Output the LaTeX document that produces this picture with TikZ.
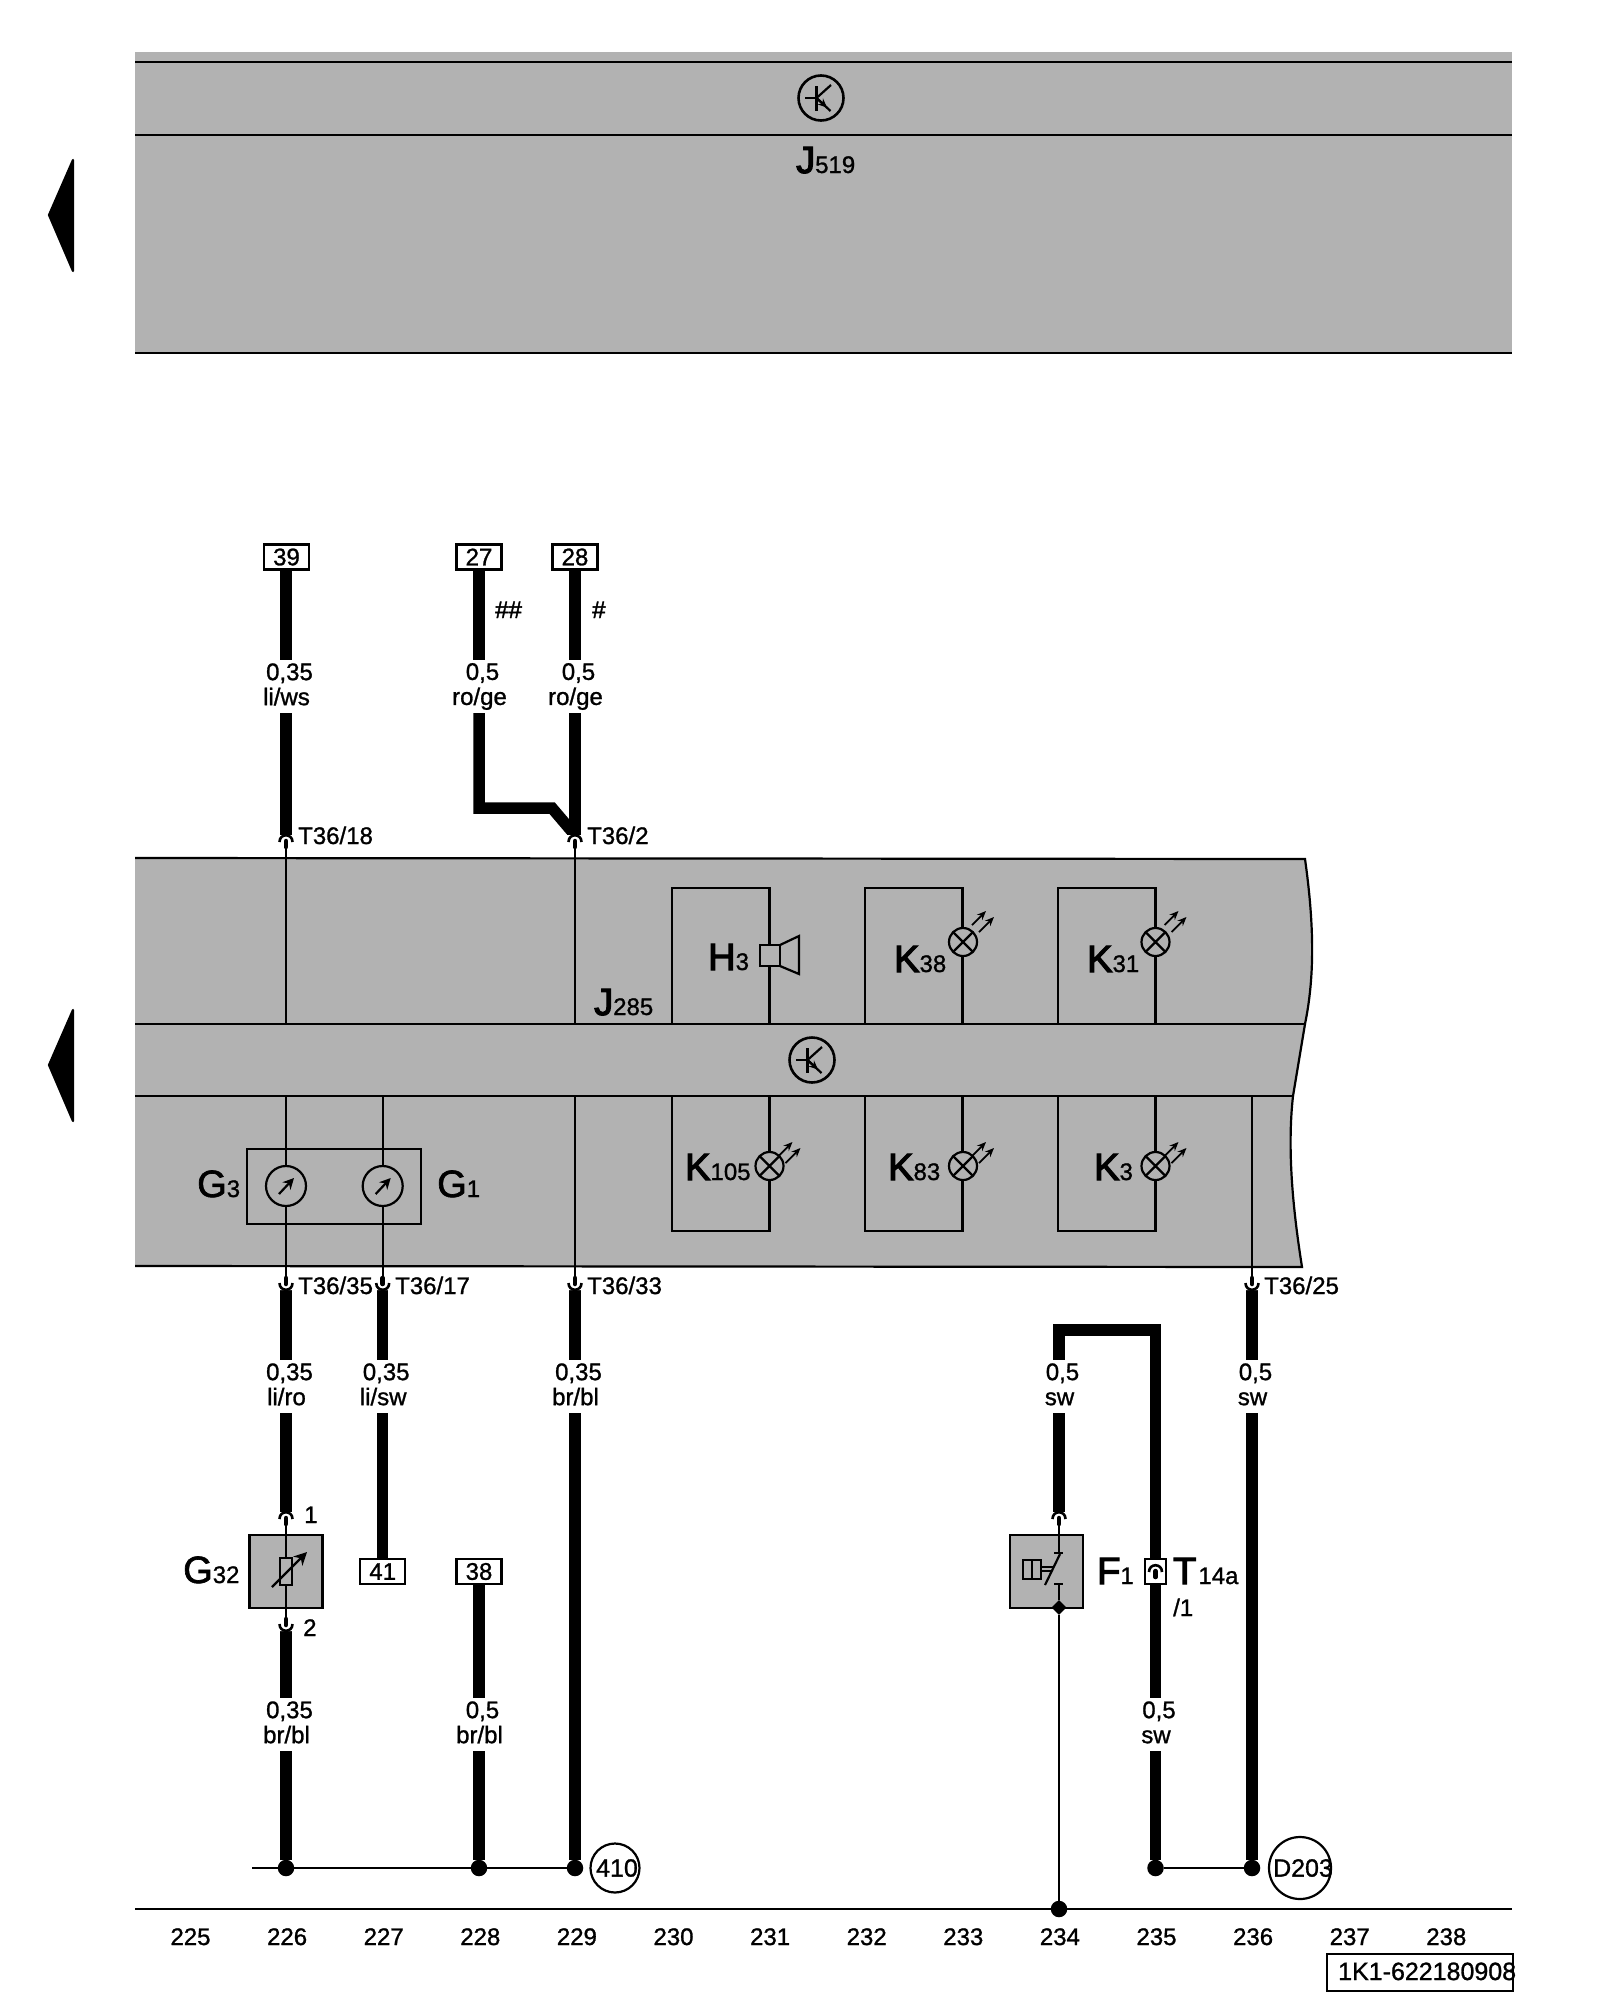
\documentclass[tikz,border=0pt]{standalone}
\usepackage{fontspec}
\setmainfont[FakeBold=1.1]{Liberation Sans}
\newfontfamily\heavyfont[FakeBold=3.2]{Liberation Sans}
\newfontfamily\mediumfont[FakeBold=1.8]{Liberation Sans}
\usetikzlibrary{arrows.meta,shapes.geometric}
\definecolor{panel}{HTML}{B2B2B2}
\newcommand{\compname}[2]{{\fontsize{38}{38}\heavyfont #1}{\fontsize{24}{24}\selectfont #2}}
\newcommand{\gaugename}[2]{{\fontsize{38}{38}\mediumfont #1}{\fontsize{24}{24}\selectfont #2}}
\newcommand{\cablelabel}[2]{\hspace*{7pt}\rule[-4.5pt]{0pt}{20.5pt}#1\\\hspace*{1pt}\rule[-4.5pt]{0pt}{20.5pt}#2}
\tikzset{
  cable/.style={line width=11.5pt},
  lead/.style={line width=2.2pt},
  rim/.style={line width=2.6pt},
  cablelab/.style={align=center,inner sep=0pt,minimum height=53pt,font=\fontsize{24}{25}\selectfont},
  terminal/.style={draw,fill=white,lead,minimum width=45pt,minimum height=25pt,inner sep=0pt,font=\fontsize{24}{24}\selectfont},
  pinlab/.style={anchor=base west,inner sep=0pt,font=\fontsize{24}{24}\selectfont},
  partlab/.style={anchor=base west,inner sep=0pt},
  sheetno/.style={anchor=base,inner sep=0pt,font=\fontsize{24}{24}\selectfont},
  joint/.style={circle,fill=black,inner sep=0pt,minimum size=16.5pt},
  ground/.style={circle,draw,lead,inner sep=0pt,font=\fontsize{25}{25}\selectfont},
  sensorbox/.style={draw,fill=panel,lead,inner sep=0pt,minimum size=73pt},
  pics/pintop/.style={code={
    \draw[line width=2.6pt] (-6.5,7) .. controls (-6.5,-2) and (6.5,-2) .. (6.5,7);
    \draw[line width=4.5pt,line cap=round] (0,6) -- (0,12);
  }},
  pics/pinbottom/.style={code={
    \draw[line width=2.6pt] (-6.5,-7) .. controls (-6.5,2) and (6.5,2) .. (6.5,-7);
    \draw[line width=4.5pt,line cap=round] (0,-6) -- (0,-12);
  }},
  pics/lamp/.style={code={
    \draw[lead,fill=panel] (0,0) circle (14);
    \draw[lead] (-9.9,-9.9) -- (9.9,9.9) (-9.9,9.9) -- (9.9,-9.9);
    \draw[line width=1.8pt,-{Stealth[length=9pt,width=7.5pt]}] (9,-17+#1) -- (23,-31+#1);
    \draw[line width=1.8pt,-{Stealth[length=9pt,width=7.5pt]}] (16,-10+#1) -- (31,-25+#1);
  }},
  pics/gauge/.style={code={
    \draw[lead,fill=panel] (0,0) circle (20);
    \draw[lead,-{Stealth[length=11pt,width=11pt]}] (-7,8) -- (8,-8);
  }},
  pics/transistor/.style={code={
    \draw[rim] (0,0) circle (22.5);
    \draw[lead] (-16,0) -- (-4.5,0) (-4.5,-12) -- (-4.5,13);
    \draw[lead] (-4.5,0) -- (10,-13);
    \draw[lead] (-4.5,0) -- (9.5,13);
    \draw[lead,-{Stealth[length=9pt,width=8pt]}] (-4.5,0) -- (6,9.5);
  }},
}
\begin{document}
\begin{tikzpicture}[x=1pt,y=-1pt]
  \useasboundingbox (0,0) rectangle (1600,2000);

  \fill[black,line join=round,draw=black,lead] (49,215) -- (73,160) -- (73,271) -- cycle;
  \fill[black,line join=round,draw=black,lead] (49,1065) -- (73,1010) -- (73,1121) -- cycle;

  \fill[panel] (135,52) rectangle (1512,354);
  \draw[rim] (135,62) -- (1512,62);
  \draw[rim] (135,135) -- (1512,135);
  \draw[rim] (135,353) -- (1512,353);
  \pic at (821,98) {transistor};
  \node[partlab] (j519) at (796,173) {\compname{J}{519}};

  \fill[panel] (135,858) -- (1305,859) .. controls (1315,930) and (1314,980) .. (1305,1024)
    -- (1293,1096) .. controls (1287,1150) and (1293,1210) .. (1302,1267) -- (135,1266) -- cycle;
  \draw[lead] (135,858) -- (1305,859) .. controls (1315,930) and (1314,980) .. (1305,1024)
    -- (1293,1096) .. controls (1287,1150) and (1293,1210) .. (1302,1267) -- (135,1266);
  \draw[lead] (135,1024) -- (1305,1024);
  \draw[lead] (135,1096) -- (1293,1096);
  \pic at (812,1060) {transistor};
  \node[partlab] (j285) at (594,1015) {\compname{J}{285}};

  \foreach \x in {672,865,1058} {
    \draw[lead] (\x,1024) -- (\x,888) -- (\x+97.5,888) -- (\x+97.5,1024);
    \draw[lead] (\x,1096) -- (\x,1231) -- (\x+97.5,1231) -- (\x+97.5,1096);
  }
  \draw[lead,fill=panel] (760,945) rectangle (780,966);
  \draw[lead,line join=miter] (780,945) -- (799,936) -- (799,974) -- (780,966);
  \pic at (963,942) {lamp=0};
  \pic at (1155.5,942) {lamp=0};
  \pic at (769.5,1166) {lamp=7};
  \pic at (963,1166) {lamp=7};
  \pic at (1155.5,1166) {lamp=7};
  \node[partlab] (h3) at (708,970) {\compname{H}{3}};
  \node[partlab] (k38) at (894,972) {\compname{K}{38}};
  \node[partlab] (k31) at (1087,972) {\compname{K}{31}};
  \node[partlab] (k105) at (685,1180) {\compname{K}{105}};
  \node[partlab] (k83) at (888,1180) {\compname{K}{83}};
  \node[partlab] (k3) at (1094,1180) {\compname{K}{3}};

  \draw[lead] (247,1149) rectangle (421,1224);
  \node[partlab] (g3) at (197,1197) {\gaugename{G}{3}};
  \node[partlab] (g1) at (437,1197) {\gaugename{G}{1}};

  \node[terminal] (b39) at (286.5,557) {39};
  \node[terminal] (b27) at (479,557) {27};
  \node[terminal] (b28) at (575,557) {28};
  \node[terminal] (b41) at (382.7,1571.5) {41};
  \node[terminal] (b38) at (479,1571.5) {38};
  \node[terminal,minimum width=21pt] (t14a) at (1155.5,1571.5) {};

  \node[cablelab] (l39) at (286,686.5) {\cablelabel{0,35}{li/ws}};
  \node[cablelab] (l27) at (479,686.5) {\cablelabel{0,5}{ro/ge}};
  \node[cablelab] (l28) at (575,686.5) {\cablelabel{0,5}{ro/ge}};
  \node[cablelab] (l226) at (286,1386.5) {\cablelabel{0,35}{li/ro}};
  \node[cablelab] (l227) at (382.7,1386.5) {\cablelabel{0,35}{li/sw}};
  \node[cablelab] (l229) at (575,1386.5) {\cablelabel{0,35}{br/bl}};
  \node[cablelab] (l234) at (1059,1386.5) {\cablelabel{0,5}{sw}};
  \node[cablelab] (l236) at (1252,1386.5) {\cablelabel{0,5}{sw}};
  \node[cablelab] (m226) at (286,1724.5) {\cablelabel{0,35}{br/bl}};
  \node[cablelab] (m228) at (479,1724.5) {\cablelabel{0,5}{br/bl}};
  \node[cablelab] (m235) at (1155.5,1724.5) {\cablelabel{0,5}{sw}};

  \node[joint] (d226) at (286,1868) {};
  \node[joint] (d228) at (479,1868) {};
  \node[joint] (d229) at (575,1868) {};
  \node[joint] (d235) at (1155.5,1868) {};
  \node[joint] (d236) at (1252,1868) {};
  \node[joint] (d234) at (1059,1909) {};
  \node[ground,minimum size=49pt,label={[xshift=2pt,font=\fontsize{25}{25}\selectfont]center:410}] (g410) at (615,1868) {};
  \node[ground,minimum size=62pt,label={[xshift=3pt,font=\fontsize{25}{25}\selectfont]center:D203}] (g203) at (1300,1868) {};

  \coordinate (t18) at (286,835);
  \coordinate (t2) at (575,835);
  \coordinate (t35) at (286,1290);
  \coordinate (t17) at (382.7,1290);
  \coordinate (t33) at (575,1290);
  \coordinate (t25) at (1252,1290);
  \coordinate (p1) at (286,1512);
  \coordinate (p2) at (286,1631);
  \coordinate (pf) at (1059,1512);
  \coordinate (jog) at (552,808);
  \coordinate (loop) at (1155.5,1330);
  \coordinate (busend) at (252,1868);

  \begin{scope}[cable]
    \draw (b39.south -| t18) -- (l39);
    \draw (l39) -- (t18);
    \draw (b27) -- (l27);
    \draw (l27) |- (jog) -- (t2);
    \draw (b28) -- (l28);
    \draw (l28) -- (t2);
    \draw (t35) -- (l226);
    \draw (l226) -- (p1);
    \draw (t17) -- (l227);
    \draw (l227) -- (b41);
    \draw (t33) -- (l229);
    \draw (l229) -- (d229);
    \draw (pf) -- (l234);
    \draw (l234) |- (loop) -- (t14a);
    \draw (t25) -- (l236);
    \draw (l236) -- (d236);
    \draw (p2) -- (m226);
    \draw (m226) -- (d226);
    \draw (b38) -- (m228);
    \draw (m228) -- (d228);
    \draw (t14a) -- (m235);
    \draw (m235) -- (d235);
  \end{scope}
  \node[terminal,minimum width=21pt] (t14b) at (t14a) {};

  \begin{scope}[lead]
    \draw (t18) -- (286,1024);
    \draw (t2) -- (575,1024);
    \draw (286,1096) -- (t35);
    \draw (382.7,1096) -- (t17);
    \draw (575,1096) -- (t33);
    \draw (1252,1096) -- (t25);
    \draw (busend) -- (d226) -- (d228) -- (d229);
    \draw (d235) -- (d236);
    \draw (135,1909) -- (d234) -- (1512,1909);
  \end{scope}
  \pic at (286,1186) {gauge};
  \pic at (382.7,1186) {gauge};
  \fill[white] (275,835) rectangle (297,848) (564,835) rectangle (586,848);
  \fill[white] (275,1277) rectangle (297,1290) (371.7,1277) rectangle (393.7,1290);
  \fill[white] (564,1277) rectangle (586,1290) (1241,1277) rectangle (1263,1290);
  \draw[lead] (286,848) -- (286,858) (575,848) -- (575,858);
  \draw[lead] (286,1267) -- (286,1278) (382.7,1267) -- (382.7,1278);
  \draw[lead] (575,1267) -- (575,1278) (1252,1267) -- (1252,1278);
  \pic at (t18) {pintop};
  \pic at (t2) {pintop};
  \pic at (t35) {pinbottom};
  \pic at (t17) {pinbottom};
  \pic at (t33) {pinbottom};
  \pic at (t25) {pinbottom};
  \pic at (1155.5,1565) {pintop};

  \node[pinlab] (n18) at (298,844) {T36/18};
  \node[pinlab] (n2) at (587,844) {T36/2};
  \node[pinlab] (n35) at (298,1294) {T36/35};
  \node[pinlab] (n17) at (395,1294) {T36/17};
  \node[pinlab] (n33) at (587,1294) {T36/33};
  \node[pinlab] (n25) at (1264,1294) {T36/25};
  \node[pinlab,font=\fontsize{24}{24}\mediumfont] (hh) at (495,618) {\#\#};
  \node[pinlab,font=\fontsize{24}{24}\mediumfont] (h1) at (592,618) {\#};

  \node[sensorbox] (g32box) at (286,1571.5) {};
  \fill[white] (275,1512) rectangle (297,1533) (275,1610) rectangle (297,1631);
  \draw[lead] (g32box.north) -- (286,1524);
  \draw[lead] (g32box.south) -- (286,1619);
  \draw[lead] (g32box.north) -- (g32box.south);
  \draw[lead,fill=panel] (280,1558) rectangle (292,1585);
  \draw[lead,-{Stealth[length=13pt,width=13pt]}] (272,1587) -- (307,1552);
  \pic at (p1) {pintop};
  \pic at (p2) {pinbottom};
  \node[pinlab] (p1n) at (304,1523) {1};
  \node[pinlab] (p2n) at (303,1636) {2};
  \node[partlab] (g32) at (183,1583) {\gaugename{G}{32}};

  \node[sensorbox] (f1box) at (1046.5,1571.5) {};
  \node[diamond,fill=black,inner sep=0pt,minimum size=15pt] (f1dot) at (1059,1607.5) {};
  \coordinate (f1up) at (1059,1553);
  \coordinate (f1lo) at (1059,1584);
  \fill[white] (1048,1512) rectangle (1070,1533);
  \draw[lead] (1059,1524) -- (f1up);
  \draw[lead] (1054,1553) -- (1063,1553);
  \draw[lead] (1045,1585) -- (1060,1554);
  \draw[lead] (1054,1584) -- (1063,1584);
  \draw[lead] (f1lo) -- (f1dot);
  \draw[lead] (f1dot) -- (d234);
  \draw[lead] (1023,1560) rectangle (1041,1579);
  \draw[lead] (1032,1560) -- (1032,1579);
  \draw[line width=1.5pt] (1041,1567) -- (1053,1567) (1041,1571) -- (1051,1571);
  \pic at (pf) {pintop};
  \node[partlab] (f1) at (1097,1584) {\compname{F}{1}};
  \node[partlab] (t14n) at (1173,1584) {{\fontsize{38}{38}\heavyfont T}\hspace{2pt}{\fontsize{24}{24}\selectfont 14a}};
  \node[pinlab] (t14p) at (1173,1616) {/1};

  \foreach \n [count=\i from 0] in {225,...,238}
    \node[sheetno] (s\n) at (190.5+96.6*\i,1945) {\n};
  \node[draw,lead,minimum width=186pt,minimum height=37pt,inner sep=0pt] (code) at (1420,1972.5) {};
  \node[anchor=base west,inner sep=0pt,font=\fontsize{25}{25}\selectfont] (codetxt) at (1338,1980) {1K1-622180908};
\end{tikzpicture}
\end{document}
